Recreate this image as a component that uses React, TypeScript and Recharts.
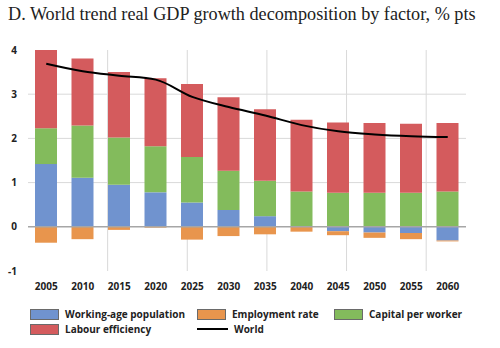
import {
  ComposedChart,
  Bar,
  Line,
  XAxis,
  YAxis,
  CartesianGrid,
  ReferenceLine,
} from "recharts";

const years = ["2005", "2010", "2015", "2020", "2025", "2030", "2035", "2040", "2045", "2050", "2055", "2060"];
const workingAge = [1.42, 1.11, 0.95, 0.78, 0.55, 0.38, 0.24, 0.0, -0.1, -0.13, -0.14, -0.31];
const employment = [-0.36, -0.28, -0.07, -0.02, -0.29, -0.21, -0.17, -0.11, -0.09, -0.12, -0.14, -0.02];
const capital = [0.81, 1.18, 1.07, 1.04, 1.03, 0.89, 0.8, 0.8, 0.77, 0.77, 0.77, 0.8];
const labour = [1.78, 1.52, 1.48, 1.54, 1.65, 1.66, 1.62, 1.62, 1.59, 1.58, 1.56, 1.55];
const world = [3.69, 3.52, 3.42, 3.33, 2.94, 2.71, 2.52, 2.3, 2.16, 2.09, 2.05, 2.03];
const yTicks = [-1, 0, 1, 2, 3, 4];
const gridRows = [1, 2, 3];
const gridBreaks = [2, 4, 6, 8, 10];

const data = years.map((year, i) => ({
  year,
  workingAge: workingAge[i],
  employment: employment[i],
  capital: capital[i],
  labour: labour[i],
  world: world[i],
}));

const BLUE = "#7093cf";
const ORANGE = "#e8954d";
const GREEN = "#83bb5c";
const RED = "#d45b5d";

const tickFont = { fontFamily: "Open Sans", fontSize: 10, fontWeight: 700, fill: "#222" };
const legendFont = { fontFamily: "Open Sans", fontSize: 10, fontWeight: 700, color: "#222" };

function Swatch({ color }: { color: string }) {
  return (
    <div
      style={{
        width: 29,
        height: 11,
        background: color,
        border: "1px solid #6a6a6a",
        boxSizing: "border-box",
      }}
    />
  );
}

function LegendItem({ x, y, color, label, line }: { x: number; y: number; color: string; label: string; line?: boolean }) {
  return (
    <div style={{ position: "absolute", left: x, top: y, display: "flex", alignItems: "center", gap: 6, ...legendFont }}>
      {line ? (
        <div style={{ width: 31, height: 2, background: "#000" }} />
      ) : (
        <Swatch color={color} />
      )}
      <span>{label}</span>
    </div>
  );
}

export default function App() {
  return (
    <div style={{ position: "absolute", left: 0, top: 0, width: 500, height: 348, background: "#fff" }}>
      <div
        style={{
          position: "absolute",
          left: 8,
          top: 4,
          fontFamily: "Liberation Serif",
          fontSize: 18.2,
          color: "#222",
          whiteSpace: "nowrap",
        }}
      >
        D. World trend real GDP growth decomposition by factor, % pts
      </div>
      <ComposedChart
        width={500}
        height={300}
        data={data}
        stackOffset="sign"
        margin={{ top: 50, right: 8, bottom: 9, left: 0 }}
      >
        <XAxis xAxisId="grid" type="number" domain={[0, years.length]} hide />
        <CartesianGrid yAxisId="left" vertical={false} horizontalValues={gridRows} stroke="#d9d9d9" />
        <CartesianGrid xAxisId="grid" yAxisId="left" horizontal={false} verticalValues={gridBreaks} stroke="#d9d9d9" />
        <XAxis
          dataKey="year"
          axisLine={false}
          tickLine={false}
          tick={tickFont}
          tickMargin={6}
          height={20}
          interval={0}
        />
        <YAxis
          yAxisId="left"
          domain={[-1, 4]}
          ticks={yTicks}
          allowDataOverflow
          axisLine={false}
          tickLine={false}
          tick={tickFont}
          tickMargin={5}
          width={28}
        />
        <YAxis
          yAxisId="right"
          orientation="right"
          domain={[-1, 4]}
          ticks={yTicks}
          axisLine={false}
          tickLine={{ stroke: "#999" }}
          tickSize={4}
          tick={tickFont}
          tickMargin={2}
          width={26}
        />
        <Bar yAxisId="left" dataKey="workingAge" stackId="a" fill={BLUE} barSize={22} isAnimationActive={false} />
        <Bar yAxisId="left" dataKey="employment" stackId="a" fill={ORANGE} barSize={22} isAnimationActive={false} />
        <Bar yAxisId="left" dataKey="capital" stackId="a" fill={GREEN} barSize={22} isAnimationActive={false} />
        <Bar yAxisId="left" dataKey="labour" stackId="a" fill={RED} barSize={22} isAnimationActive={false} />
        <ReferenceLine yAxisId="left" y={0} stroke="#a6a6a6" strokeWidth={1.5} />
        <Line
          yAxisId="left"
          dataKey="world"
          type="monotone"
          stroke="#000"
          strokeWidth={2}
          dot={false}
          isAnimationActive={false}
        />
      </ComposedChart>
      <LegendItem x={30} y={307} color={BLUE} label="Working-age population" />
      <LegendItem x={197} y={307} color={ORANGE} label="Employment rate" />
      <LegendItem x={334} y={307} color={GREEN} label="Capital per worker" />
      <LegendItem x={30} y={322} color={RED} label="Labour efficiency" />
      <LegendItem x={197} y={322} color="#000" label="World" line />
    </div>
  );
}
